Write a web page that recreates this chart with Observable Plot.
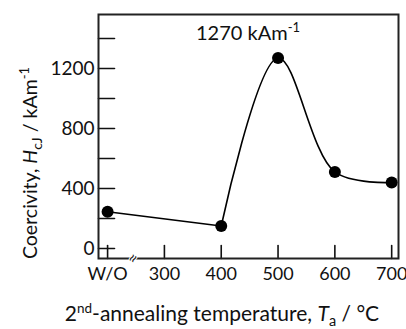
<!DOCTYPE html>
<html><head><meta charset="utf-8">
<script src="https://cdn.jsdelivr.net/npm/d3@7"></script>
<script src="https://cdn.jsdelivr.net/npm/@observablehq/plot@0.6"></script>
<style>body{margin:0;background:#fff;} svg{display:block;}</style>
</head><body><div id="chart"></div>
<script>
// 200 on the x scale stands for "W/O" (without 2nd annealing)
const temps = [200, 400, 500, 600, 700];
const coercivity = [245, 150, 1270, 510, 440];
const xTicks = [200, 300, 400, 500, 600, 700];
const xTickLabels = ["W/O", "300", "400", "500", "600", "700"];
const yTicks = [0, 200, 400, 600, 800, 1000, 1200, 1400];
const yTickLabels = [0, 400, 800, 1200];
const breakAt = [245];
const peakLabel = "1270 kAm";

const data = temps.map((t, i) => ({t, hc: coercivity[i]}));
const W = 406, H = 329, mL = 98, mR = 8, mT = 14, mB = 71;
const font = "Lato, 'Open Sans', sans-serif";
const tickShape = {draw(context, l) { context.moveTo(0, 0); context.lineTo(0, -l); }};

const plot = Plot.plot({
  width: W, height: H,
  marginLeft: mL, marginRight: mR, marginTop: mT, marginBottom: mB,
  x: {domain: [184, 712]},
  y: {domain: [-67, 1560]},
  style: {fontFamily: font, fontSize: "19px", color: "#111", background: "white"},
  marks: [
    Plot.vector(yTicks, {y: d => d, frameAnchor: "left", rotate: 90, length: 16, anchor: "start", shape: tickShape, stroke: "#111", strokeWidth: 1.6}),
    Plot.vector(xTicks, {x: d => d, frameAnchor: "bottom", rotate: 0, length: 13, anchor: "start", shape: tickShape, stroke: "#111", strokeWidth: 1.6}),
    Plot.frame({stroke: "#222", strokeWidth: 2}),
    Plot.axisY(yTickLabels, {tickSize: 0, tickPadding: 4, label: null, fontSize: 19, tickFormat: d3.format("d")}),
    Plot.axisX(xTicks, {tickSize: 0, tickPadding: 9, label: null, tickFormat: d => xTickLabels[xTicks.indexOf(d)], fontSize: 18}),
    Plot.text(breakAt, {x: d => d, frameAnchor: "bottom", lineAnchor: "middle", text: () => "≈", rotate: -60, fontSize: 17, fill: "#222", stroke: "white", strokeWidth: 2, paintOrder: "stroke"}),
    Plot.line(data.filter(d => d.t <= 400), {x: "t", y: "hc", curve: "linear", stroke: "#000", strokeWidth: 1.6}),
    Plot.line(data.filter(d => d.t >= 400), {x: "t", y: "hc", curve: "catmull-rom", stroke: "#000", strokeWidth: 1.6}),
    Plot.dot(data, {x: "t", y: "hc", r: 6, fill: "#000"})
  ]
});
document.getElementById("chart").appendChild(plot);

const svg = d3.select(plot);
// peak annotation
const ann = svg.append("text").attr("x", mL + (W - mL - mR) / 2).attr("y", 40)
  .attr("text-anchor", "middle").style("font-family", font).style("font-size", "20px").attr("fill", "#111");
ann.append("tspan").text(peakLabel);
ann.append("tspan").attr("dy", -8).style("font-size", "13px").text("-1");

// y-axis label
const yl = svg.append("text").attr("transform", "translate(37,163) rotate(-90)")
  .attr("text-anchor", "middle").style("font-family", font).style("font-size", "19.5px").attr("fill", "#111");
yl.append("tspan").text("Coercivity, ");
yl.append("tspan").style("font-style", "italic").text("H");
yl.append("tspan").attr("dy", 5).style("font-size", "14px").text("cJ");
yl.append("tspan").attr("dy", -5).text(" / kAm");
yl.append("tspan").attr("dy", -8).style("font-size", "13px").text("-1");

// x-axis label
const xl = svg.append("text").attr("x", 222).attr("y", 321)
  .attr("text-anchor", "middle").style("font-family", font).style("font-size", "21px").attr("fill", "#111");
xl.append("tspan").text("2");
xl.append("tspan").attr("dy", -8).style("font-size", "13.5px").text("nd");
xl.append("tspan").attr("dy", 8).text("-annealing temperature, ");
xl.append("tspan").style("font-style", "italic").text("T");
xl.append("tspan").attr("dy", 5).style("font-size", "14.5px").text("a");
xl.append("tspan").attr("dy", -5).text(" / °C");
</script>
</body></html>
